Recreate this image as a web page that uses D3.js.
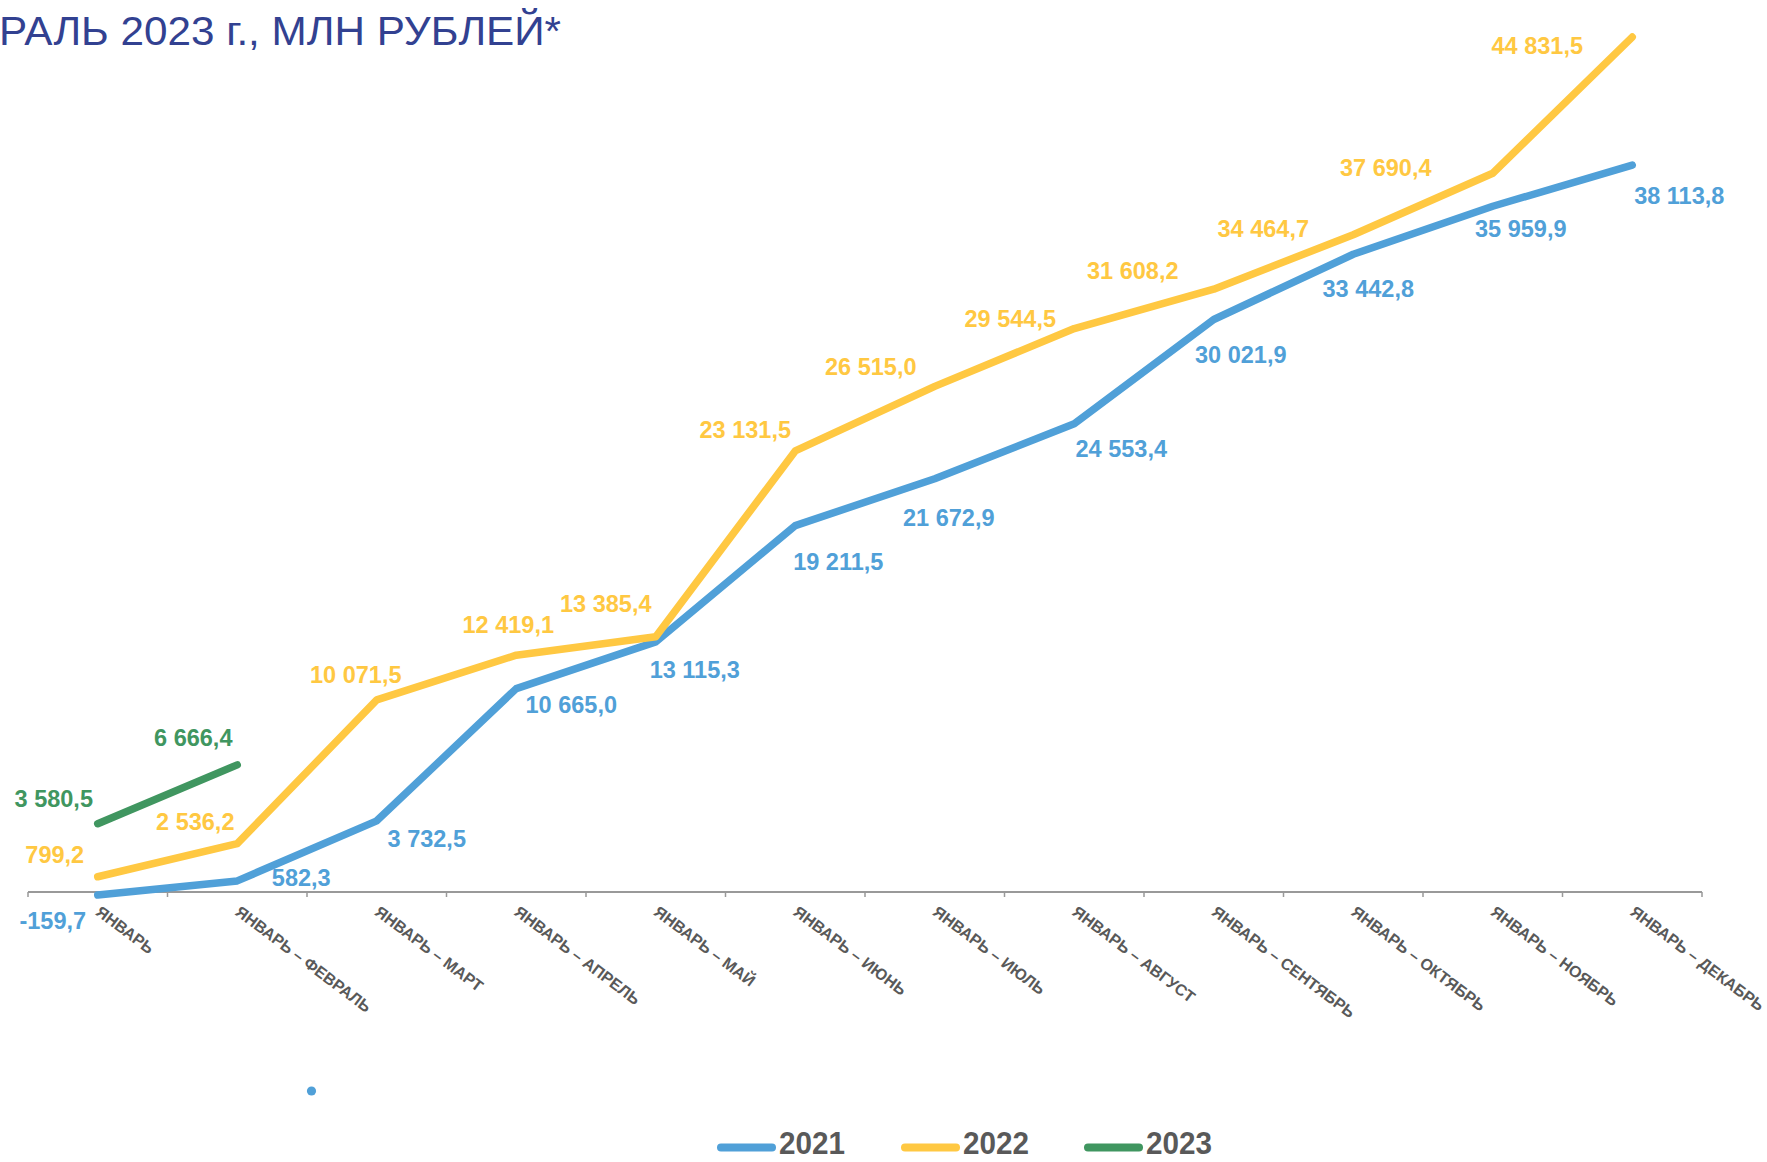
<!DOCTYPE html>
<html>
<head>
<meta charset="utf-8">
<script src="https://cdn.jsdelivr.net/npm/d3@7"></script>
<style>
  html, body { margin: 0; padding: 0; background: #fff; }
  svg { display: block; }
</style>
</head>
<body>
<svg id="chart" width="1767" height="1162"></svg>
<script>
// ---------- DATA ----------
const categories = [
  "ЯНВАРЬ", "ЯНВАРЬ – ФЕВРАЛЬ", "ЯНВАРЬ – МАРТ", "ЯНВАРЬ – АПРЕЛЬ",
  "ЯНВАРЬ – МАЙ", "ЯНВАРЬ – ИЮНЬ", "ЯНВАРЬ – ИЮЛЬ", "ЯНВАРЬ – АВГУСТ",
  "ЯНВАРЬ – СЕНТЯБРЬ", "ЯНВАРЬ – ОКТЯБРЬ", "ЯНВАРЬ – НОЯБРЬ", "ЯНВАРЬ – ДЕКАБРЬ"
];
const values2021 = [-159.7, 582.3, 3732.5, 10665.0, 13115.3, 19211.5, 21672.9, 24553.4, 30021.9, 33442.8, 35959.9, 38113.8];
const values2022 = [799.2, 2536.2, 10071.5, 12419.1, 13385.4, 23131.5, 26515.0, 29544.5, 31608.2, 34464.7, 37690.4, 44831.5];
const values2023 = [3580.5, 6666.4];
const seriesNames = ["2021", "2022", "2023"];
const titleText = "РАЛЬ 2023 г., МЛН РУБЛЕЙ*";

// ---------- LAYOUT (label offsets from points, px) ----------
const labelOffsets2021 = [[-45,26],[64,-3],[50,18],[55,16],[39,28],[43,36],[14,39],[47,25],[27,36],[15,35],[28,23],[47,31]];
const labelOffsets2022 = [[-43,-22],[-42,-22],[-21,-25],[-8,-30],[-50,-33],[-50,-21],[-64,-19],[-64,-10],[-81,-18],[-90,-6],[-107,-5],[-95,9]];
const labelOffsets2023 = [[-44,-25],[-44,-27]];

const colors = { "2021": "#50A0D8", "2022": "#FFC842", "2023": "#409660" };

const svg = d3.select("#chart");

const x = d3.scaleBand().domain(categories).range([28, 1702]).padding(0);
const y = d3.scaleLinear().domain([0, 45000]).range([892, 33.85]);
const cx = c => x(c) + x.bandwidth() / 2;

const fmt = v => {
  const s = d3.format(",.1f")(v);
  return s.replace(/,/g, " ").replace(".", ",").replace("−", "-");
};

// Title (cropped in reference)
svg.append("text")
  .attr("x", -1).attr("y", 45)
  .attr("font-family", "Liberation Sans, Arial, sans-serif")
  .attr("font-size", 40)
  .attr("fill", "#324191")
  .attr("textLength", 562)
  .attr("lengthAdjust", "spacingAndGlyphs")
  .text(titleText);

// Axis line
const axisY = y(0);
svg.append("line")
  .attr("x1", x.range()[0]).attr("x2", x.range()[1])
  .attr("y1", axisY).attr("y2", axisY)
  .attr("stroke", "#999").attr("stroke-width", 2);

// Ticks at band boundaries
const boundaries = categories.map(c => x(c)).concat([x.range()[1]]);
svg.append("g").selectAll("line").data(boundaries).join("line")
  .attr("x1", d => d).attr("x2", d => d)
  .attr("y1", axisY).attr("y2", axisY + 5)
  .attr("stroke", "#999").attr("stroke-width", 1.5);

// Category labels
svg.append("g").selectAll("text").data(categories).join("text")
  .attr("transform", c => `translate(${cx(c) - 3},${axisY + 22}) rotate(37)`)
  .attr("font-family", "Liberation Sans, Arial, sans-serif")
  .attr("font-size", 16)
  .attr("font-weight", "bold")
  .attr("fill", "#595959")
  .text(c => c);

// Lines
const line = d3.line().x(d => cx(d.c)).y(d => y(d.v));
const series = [
  { name: "2021", values: values2021, offsets: labelOffsets2021 },
  { name: "2022", values: values2022, offsets: labelOffsets2022 },
  { name: "2023", values: values2023, offsets: labelOffsets2023 }
];

series.forEach(s => {
  const pts = s.values.map((v, i) => ({ c: categories[i], v }));
  svg.append("path")
    .datum(pts)
    .attr("d", line)
    .attr("fill", "none")
    .attr("stroke", colors[s.name])
    .attr("stroke-width", 7.5)
    .attr("stroke-linecap", "round")
    .attr("stroke-linejoin", "round");
});

series.forEach(s => {
  const pts = s.values.map((v, i) => ({ c: categories[i], v, o: s.offsets[i] }));
  svg.append("g").selectAll("text").data(pts).join("text")
    .attr("x", d => cx(d.c) + d.o[0])
    .attr("y", d => y(d.v) + d.o[1])
    .attr("text-anchor", "middle")
    .attr("dominant-baseline", "central")
    .attr("font-family", "Liberation Sans, Arial, sans-serif")
    .attr("font-size", 23.5)
    .attr("font-weight", "bold")
    .attr("fill", colors[s.name])
    .text(d => fmt(d.v));
});

// Stray marker (present in reference)
svg.append("circle")
  .attr("cx", 311.5).attr("cy", 1091).attr("r", 4.6)
  .attr("fill", colors["2021"]);

// Legend
const legendX = [717, 901, 1084];
const legend = svg.append("g").selectAll("g").data(seriesNames).join("g")
  .attr("transform", (d, i) => `translate(${legendX[i]},0)`);
legend.append("line")
  .attr("x1", 4).attr("x2", 55)
  .attr("y1", 1147.5).attr("y2", 1147.5)
  .attr("stroke", d => colors[d])
  .attr("stroke-width", 8)
  .attr("stroke-linecap", "round");
legend.append("text")
  .attr("x", 62).attr("y", 1154)
  .attr("font-family", "Liberation Sans, Arial, sans-serif")
  .attr("font-size", 32)
  .attr("font-weight", "bold")
  .attr("fill", "#595959")
  .attr("textLength", 66)
  .attr("lengthAdjust", "spacingAndGlyphs")
  .text(d => d);
</script>
</body>
</html>
